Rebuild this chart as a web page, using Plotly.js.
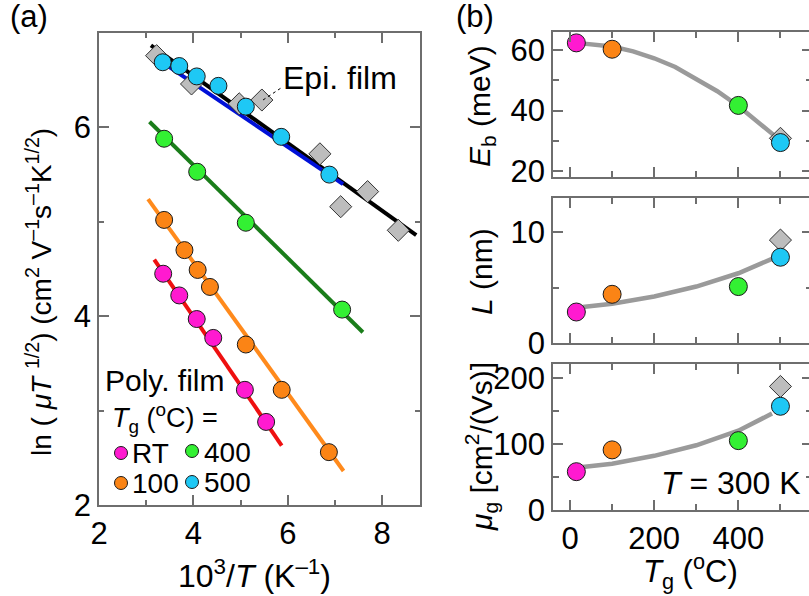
<!DOCTYPE html>
<html>
<head>
<meta charset="utf-8">
<script src="https://cdn.plot.ly/plotly-3.0.1.min.js"></script>
<style>
html,body{margin:0;padding:0;overflow:hidden;background:#fff;}
#chart{width:812px;height:596px;}
</style>
</head>
<body>
<div id="chart"></div>
<script>
// ---------- Panel (a) data: ln(mu T^1/2) vs 1000/T ----------
var rtX   = [3.36, 3.70, 4.07, 4.42, 5.09, 5.54];
var rtY   = [4.45, 4.22, 3.97, 3.77, 3.22, 2.88];
var t100X = [3.38, 3.81, 4.09, 4.35, 5.11, 5.87, 6.87];
var t100Y = [5.02, 4.70, 4.49, 4.31, 3.70, 3.22, 2.56];
var t400X = [3.38, 4.08, 5.11, 7.15];
var t400Y = [5.88, 5.53, 4.99, 4.07];
var t500X = [3.35, 3.70, 4.07, 4.53, 5.11, 5.86, 6.88];
var t500Y = [6.69, 6.65, 6.54, 6.44, 6.22, 5.90, 5.50];
var epiX  = [3.22, 3.96, 4.97, 5.45, 6.68, 7.12, 7.69, 8.34];
var epiY  = [6.76, 6.46, 6.25, 6.29, 5.72, 5.16, 5.32, 4.91];
// fitted lines (end points)
var fitRtX   = [3.17, 5.87], fitRtY   = [4.60, 2.63];
var fit100X  = [3.04, 7.18], fit100Y  = [5.24, 2.36];
var fit400X  = [3.07, 7.59], fit400Y  = [6.06, 3.83];
var fit500X  = [3.25, 7.17], fit500Y  = [6.72, 5.40];
var fitEpiX  = [3.10, 8.72], fitEpiY  = [6.87, 4.86];

// ---------- Panel (b) data vs growth temperature Tg ----------
var tgPoly   = [15, 100, 400, 500];           // RT, 100, 400, 500
var polyColors = ['#ff1ad0', '#fb8415', '#33f033', '#1ec8f5'];
var ebPoly   = [62.4, 60.3, 41.7, 29.4];
var lPoly    = [2.8, 4.4, 5.1, 7.75];
var muPoly   = [58, 91, 105, 157];
var tgEpi    = [500];
var ebEpi    = [30.8];
var lEpi     = [9.3];
var muEpi    = [187];
// guide curves
var ebCurveX = [15, 100, 150, 200, 250, 300, 350, 400, 450, 490];
var ebCurveY = [62.4, 61.2, 59.6, 57.3, 54.4, 50.6, 46.4, 41.5, 36.0, 31.2];
var lCurveX  = [30, 100, 200, 300, 400, 480];
var lCurveY  = [3.25, 3.55, 4.2, 5.1, 6.3, 7.6];
var muCurveX = [30, 100, 200, 300, 400, 480];
var muCurveY = [65, 70, 82, 98, 120, 146];

// ---------- styling ----------
var W = 812, H = 596;
var FONT = 'Liberation Sans, Arial, sans-serif';
var AX = '#6e6e6e';
var TF = 31;
function px(p){ return p / W; }
function py(p){ return 1 - p / H; }

var circ = function(c, s){ return {symbol:'circle', size:s||17, color:c, line:{color:'#1a1a1a', width:1}}; };
var diam = {symbol:'diamond', size:17, color:'#bdbdbd', line:{color:'#333', width:1}};

var traces = [];
function line(x, y, c, xa, ya, w){
  traces.push({x:x, y:y, mode:'lines', line:{color:c, width:w||4}, xaxis:xa, yaxis:ya, showlegend:false, hoverinfo:'skip'});
}
function pts(x, y, m, xa, ya){
  traces.push({x:x, y:y, mode:'markers', marker:m, xaxis:xa, yaxis:ya, showlegend:false});
}
// panel a
line(fitEpiX, fitEpiY, '#000000', 'x', 'y');
line(fit500X, fit500Y, '#0010d8', 'x', 'y');
line(fit400X, fit400Y, '#1a7d1a', 'x', 'y');
line(fit100X, fit100Y, '#ff8a1c', 'x', 'y');
line(fitRtX, fitRtY, '#ee1010', 'x', 'y');
pts(epiX, epiY, diam, 'x', 'y');
pts(t400X, t400Y, circ(polyColors[2]), 'x', 'y');
pts(t100X, t100Y, circ(polyColors[1]), 'x', 'y');
pts(rtX, rtY, circ(polyColors[0]), 'x', 'y');
pts(t500X, t500Y, circ(polyColors[3]), 'x', 'y');
// panel b
var GR = '#9a9a9a';
line(ebCurveX, ebCurveY, GR, 'x2', 'y2', 4.5);
line(lCurveX, lCurveY, GR, 'x3', 'y3', 4.5);
line(muCurveX, muCurveY, GR, 'x4', 'y4', 4.5);
pts(tgEpi, ebEpi, diam, 'x2', 'y2');
pts(tgEpi, lEpi, diam, 'x3', 'y3');
pts(tgEpi, muEpi, diam, 'x4', 'y4');
[['x2','y2',ebPoly],['x3','y3',lPoly],['x4','y4',muPoly]].forEach(function(s){
  traces.push({x:tgPoly, y:s[2], mode:'markers', xaxis:s[0], yaxis:s[1], showlegend:false,
    marker:{symbol:'circle', size:18, color:polyColors, line:{color:'#1a1a1a', width:1}}});
});

function minor(vals, len){ return {tickvals:vals, ticks:'inside', ticklen:len||6, tickwidth:1.5, tickcolor:AX}; }
function axis(o){
  var base = {showgrid:false, zeroline:false, showline:true, linecolor:AX, linewidth:1.5,
    mirror:'ticks', ticks:'inside', ticklen:10, tickwidth:1.5, tickcolor:AX,
    tickfont:{family:FONT, size:TF, color:'#000'}, automargin:false};
  for (var k in o) base[k] = o[k];
  return base;
}
var bx = [-40.5, 575];
var layout = {
  width: W, height: H, margin:{l:0, r:0, t:0, b:0},
  paper_bgcolor:'#fff', plot_bgcolor:'#fff',
  font:{family:FONT, size:28, color:'#000'},
  xaxis: axis({domain:[px(99), px(420)], range:[2, 8.8], tickvals:[2,4,6,8], minor:minor([3,5,7],5), anchor:'y',
    title:{text:''}}),
  yaxis: axis({domain:[py(505), py(33)], range:[2, 7], tickvals:[2,4,6], minor:minor([3,5],5), anchor:'x',
    title:{text:''}}),
  xaxis2: axis({domain:[px(553), 1], range:bx, tickvals:[0,200,400], showticklabels:false, anchor:'y2', minor:minor([100,300,500])}),
  yaxis2: axis({domain:[py(177), py(32)], range:[18, 66], tickvals:[20,40,60], anchor:'x2', minor:minor([30,50])}),
  xaxis3: axis({domain:[px(553), 1], range:bx, tickvals:[0,200,400], showticklabels:false, anchor:'y3', minor:minor([100,300,500])}),
  yaxis3: axis({domain:[py(343), py(198)], range:[0, 13.1], tickvals:[0,10], anchor:'x3', minor:minor([5])}),
  xaxis4: axis({domain:[px(553), 1], range:bx, tickvals:[0,200,400], anchor:'y4', minor:minor([100,300,500])}),
  yaxis4: axis({domain:[py(510), py(364)], range:[0, 221], tickvals:[0,100,200], anchor:'x4', minor:minor([50,150])}),
  annotations: [],
  shapes: []
};
function txt(t, x, y, xanchor, size, angle){
  layout.annotations.push({text:t, x:px(x), y:py(y), xref:'paper', yref:'paper', xanchor:xanchor||'left', yanchor:'middle',
    textangle:angle||0, showarrow:false, font:{family:FONT, size:size||28, color:'#000'}});
}
// axis titles
txt('ln ( <i>μT</i> <sup>1/2</sup>) (cm<sup>2</sup> V<sup>–1</sup>s<sup>–1</sup>K<sup>1/2</sup>)', 39, 292, 'center', 28, -90);
txt('10<sup>3</sup>/<i>T</i> (K<sup>–1</sup>)', 254, 574, 'center', 32);
txt('<i>E</i><sub>b</sub> (meV)', 481, 106, 'center', 30, -90);
txt('<i>L</i> (nm)', 481, 272, 'center', 30, -90);
txt('<i>μ</i><sub>g</sub> [cm<sup>2</sup>/(Vs)]', 481, 447, 'center', 30, -90);
txt('<i>T</i><sub>g</sub> (<sup>o</sup>C)', 690, 571, 'center', 31);
// panel labels and notes
txt('(a)', 8, 17, 'left', 31);
txt('(b)', 454, 17, 'left', 31);
txt('Epi. film', 281, 78, 'left', 32);
txt('Poly. film', 103, 380, 'left', 30);
txt('<i>T</i><sub>g</sub> (<sup>o</sup>C) =', 110, 418, 'left', 27);
txt('RT', 130, 453, 'left', 28);
txt('400', 202, 452, 'left', 28);
txt('100', 130, 483, 'left', 28);
txt('500', 202, 482, 'left', 28);
txt('<i>T</i> = 300 K', 803, 483, 'right', 32);
// dashed leader line for "Epi. film"
layout.shapes.push({type:'line', xref:'paper', yref:'paper', x0:px(263), y0:py(100), x1:px(281), y1:py(88), line:{color:'#000', width:1, dash:'dot'}});
// legend keys
function key(x, y, c){
  var r = 6.5;
  layout.shapes.push({type:'circle', xref:'paper', yref:'paper', x0:px(x-r), x1:px(x+r), y0:py(y+r), y1:py(y-r), fillcolor:c, line:{color:'#1a1a1a', width:1}});
}
key(121, 453, polyColors[0]);
key(192, 451, polyColors[2]);
key(121, 483, polyColors[1]);
key(192, 482, polyColors[3]);

Plotly.newPlot('chart', traces, layout, {displayModeBar:false});
</script>
</body>
</html>
